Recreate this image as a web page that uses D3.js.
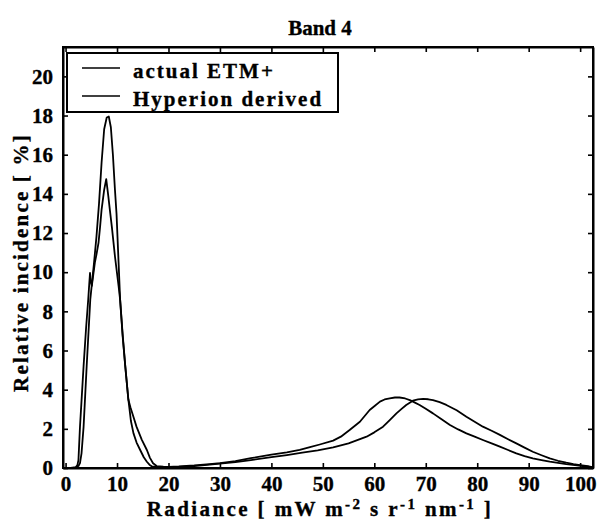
<!DOCTYPE html>
<html>
<head>
<meta charset="utf-8">
<script src="https://cdn.jsdelivr.net/npm/d3@7"></script>
<style>
    body { margin: 0; background: #fff; }
    text { font-family: "Liberation Serif", "DejaVu Serif", serif; font-weight: bold; fill: #000; stroke: #000; stroke-width: 0.35px; }
    .axis path, .axis line { stroke: #000; }
    .axis path { stroke-width: 2; }
    .axis line { stroke-width: 1.6; }
    .axis text { font-size: 21px; }
</style>
</head>
<body>
<div id="vis"></div>
<script>
// Curve data
var etmRadiance = [0, 1, 2, 2.5, 2.8, 3.1, 3.5, 4.1, 4.8, 5.5, 6, 6.5, 7, 7.5, 8, 8.4, 8.8, 9.2, 9.6, 9.9,
    10.3, 10.6, 11.1, 11.6, 12.2, 12.7, 13.2, 13.8, 14.5, 15.2, 15.8, 16.3, 16.8, 18, 20, 22, 25, 28, 30,
    33, 36, 40, 43, 46, 49, 52, 55, 58.5, 60, 61.7, 63, 64.3, 65.3, 66.2, 67.5, 68.5, 69.5, 70.5, 71.4,
    72.7, 74, 76, 77.9, 79.5, 81.1, 82.8, 84.4, 86, 87.6, 89.2, 90.8, 92.5, 94.1, 95.7, 97.3, 98.7, 100,
    101.5, 102.3];
var etmIncidence = [0, 0, 0.02, 0.1, 0.25, 0.75, 2.1, 5.2, 8.6, 10.4, 11.8, 13.5, 15.6, 17.3, 17.9, 17.95,
    17.4, 16.0, 14.2, 13.0, 10.5, 8.6, 6.7, 5.2, 3.5, 2.4, 1.77, 1.3, 0.92, 0.55, 0.32, 0.17, 0.08, 0.05,
    0.04, 0.06, 0.1, 0.17, 0.22, 0.3, 0.4, 0.55, 0.66, 0.78, 0.9, 1.05, 1.26, 1.6, 1.82, 2.11, 2.45, 2.79,
    3.02, 3.22, 3.44, 3.5, 3.53, 3.51, 3.47, 3.36, 3.22, 2.95, 2.62, 2.36, 2.11, 1.9, 1.69, 1.47, 1.26,
    1.04, 0.83, 0.65, 0.49, 0.37, 0.27, 0.2, 0.15, 0.1, 0.05];

var hypRadiance = [0, 1, 2, 2.3, 2.5, 2.8, 3.5, 4, 4.4, 4.6, 4.75, 4.9, 5.1, 5.4, 5.7, 6, 6.4, 6.7, 7,
    7.5, 7.9, 8.3, 8.6, 9, 9.6, 10.3, 10.6, 11.1, 11.6, 12.2, 12.6, 13.2, 13.8, 14.8, 15.8, 16.4, 17,
    17.7, 19, 20, 22, 25, 28, 30, 33, 36, 40, 43, 45.5, 47.5, 49.4, 52, 53.5, 55.2, 57.2, 59.1, 60, 61.1,
    62, 63, 64, 64.9, 66, 66.9, 67.8, 68.8, 70, 71.4, 73, 74.7, 76.3, 77.9, 79.5, 81.1, 82.8, 84.4, 86,
    87.6, 89.2, 90.8, 92.5, 94.1, 95.7, 97.3, 99, 100.5, 102.3];
var hypIncidence = [0, 0, 0.05, 0.15, 0.4, 2.1, 5.2, 7.2, 8.6, 9.4, 9.96, 9.5, 9.3, 9.9, 10.5, 10.9, 11.5,
    12.3, 13.2, 14.2, 14.75, 13.9, 13.2, 12.3, 10.8, 9.3, 8.6, 6.8, 5.2, 3.5, 3.1, 2.6, 2.1, 1.45, 0.92,
    0.52, 0.24, 0.1, 0.07, 0.06, 0.08, 0.13, 0.2, 0.25, 0.35, 0.5, 0.68, 0.8, 0.92, 1.06, 1.2, 1.4, 1.6,
    1.94, 2.36, 2.96, 3.15, 3.39, 3.5, 3.56, 3.6, 3.6, 3.55, 3.47, 3.35, 3.22, 3.02, 2.79, 2.5, 2.2, 1.97,
    1.77, 1.6, 1.43, 1.26, 1.09, 0.92, 0.75, 0.61, 0.49, 0.4, 0.32, 0.26, 0.2, 0.15, 0.1, 0.05];

var xTicks = [0, 10, 20, 30, 40, 50, 60, 70, 80, 90, 100];
var yTicks = [0, 2, 4, 6, 8, 10, 12, 14, 16, 18, 20];
var seriesNames = ['actual ETM+', 'Hyperion derived'];

// Size of the page and of the plot box
var width = 600;
var height = 529;
var margin = { left: 63, right: 7, top: 47, bottom: 61 };
var drawWidth = width - margin.left - margin.right;
var drawHeight = height - margin.top - margin.bottom;

var svg = d3.select('#vis')
    .append('svg')
    .attr('width', width)
    .attr('height', height);

var g = svg.append('g')
    .attr('transform', 'translate(' + margin.left + ',' + margin.top + ')');

// Scales
var xScale = d3.scaleLinear().domain([-0.5, 102.5]).range([0, drawWidth]);
var yScale = d3.scaleLinear().domain([0, 21.5]).range([drawHeight, 0]);

// Axes, ticks pointing inwards on all four sides
g.append('g')
    .attr('class', 'axis')
    .attr('transform', 'translate(0,' + drawHeight + ')')
    .call(d3.axisBottom(xScale).tickValues(xTicks).tickSizeInner(-5).tickSizeOuter(0).tickPadding(8));

g.append('g')
    .attr('class', 'axis')
    .call(d3.axisLeft(yScale).tickValues(yTicks).tickSizeInner(-5).tickSizeOuter(0).tickPadding(10));

g.append('g')
    .attr('class', 'axis')
    .call(d3.axisTop(xScale).tickValues(xTicks).tickSizeInner(-5).tickSizeOuter(0).tickFormat(''));

g.append('g')
    .attr('class', 'axis')
    .attr('transform', 'translate(' + drawWidth + ',0)')
    .call(d3.axisRight(yScale).tickValues(yTicks).tickSizeInner(-5).tickSizeOuter(0).tickFormat(''));

// Frame
g.append('rect')
    .attr('width', drawWidth)
    .attr('height', drawHeight)
    .attr('fill', 'none')
    .attr('stroke', '#000')
    .attr('stroke-width', 2);

// Curves
var line = d3.line()
    .x(function(d) { return xScale(d[0]); })
    .y(function(d) { return yScale(d[1]); });

var series = [
    d3.zip(etmRadiance, etmIncidence),
    d3.zip(hypRadiance, hypIncidence)
];

g.selectAll('path.curve')
    .data(series)
    .enter().append('path')
    .attr('class', 'curve')
    .attr('d', line)
    .attr('fill', 'none')
    .attr('stroke', '#000')
    .attr('stroke-width', 1.8)
    .attr('stroke-linejoin', 'round');

// Legend box
var legend = svg.append('g').attr('transform', 'translate(67,53)');
legend.append('rect')
    .attr('width', 271)
    .attr('height', 59)
    .attr('fill', '#fff')
    .attr('stroke', '#000')
    .attr('stroke-width', 2);

var items = legend.selectAll('g.item')
    .data(seriesNames)
    .enter().append('g')
    .attr('class', 'item')
    .attr('transform', function(d, i) { return 'translate(0,' + (15 + i * 28) + ')'; });

items.append('line')
    .attr('x1', 15).attr('x2', 53)
    .attr('stroke', '#000')
    .attr('stroke-width', 1.7);

items.append('text')
    .attr('x', 66)
    .attr('y', 10)
    .style('font-size', '21px')
    .style('letter-spacing', '2px')
    .text(function(d) { return d; });

// Title
svg.append('text')
    .attr('x', 320)
    .attr('y', 35)
    .attr('text-anchor', 'middle')
    .style('font-size', '21px')
    .text('Band 4');

// y axis title
svg.append('text')
    .attr('transform', 'translate(28,' + (margin.top + drawHeight / 2 + 5) + ') rotate(-90)')
    .attr('text-anchor', 'middle')
    .style('font-size', '21px')
    .style('letter-spacing', '2.2px')
    .text('Relative incidence [ %]');

// x axis title with superscripts
var xTitle = svg.append('text')
    .attr('x', 320)
    .attr('y', 516)
    .attr('text-anchor', 'middle')
    .style('font-size', '21px')
    .style('letter-spacing', '2.4px');

var parts = [
    ['Radiance [ mW m', false], ['-2', true], [' s r', false], ['-1', true],
    [' nm', false], ['-1', true], [' ]', false]
];
parts.forEach(function(p) {
    var t = xTitle.append('tspan').text(p[0]);
    if (p[1]) {
        t.attr('baseline-shift', '45%').style('font-size', '15px');
    }
});
</script>
</body>
</html>
